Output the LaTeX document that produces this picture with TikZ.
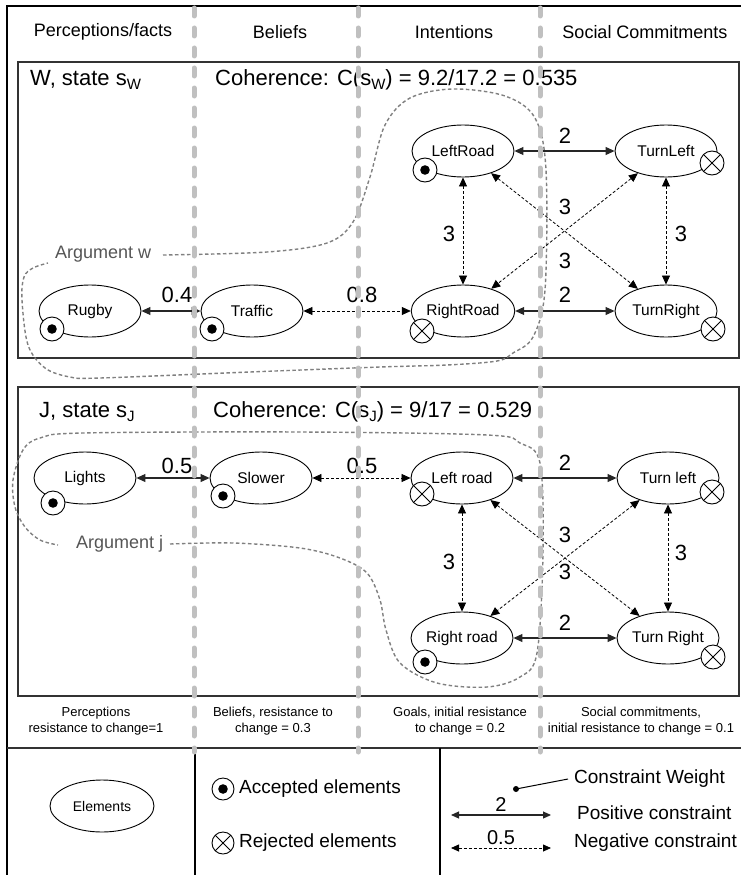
\documentclass[tikz,border=0pt]{standalone}
\usepackage{fontspec}
\setmainfont{Liberation Sans}
\usetikzlibrary{arrows.meta,shapes.geometric,calc}
\definecolor{sepgray}{RGB}{192,192,192}
\definecolor{arggray}{RGB}{128,128,128}
\definecolor{argtext}{RGB}{85,85,85}
\begin{document}
\begin{tikzpicture}[x=1pt,y=-1pt,
  elem/.style={ellipse,draw,line width=0.9pt,minimum width=102pt,minimum height=52pt,inner sep=0pt,font=\fontsize{15.5}{18}\selectfont},
  acc/.style={circle,draw,line width=0.9pt,fill=white,minimum size=24pt,inner sep=0pt,
    path picture={\fill[black] (path picture bounding box.center) circle (4.8pt);}},
  rej/.style={circle,draw,line width=0.9pt,fill=white,minimum size=24pt,inner sep=0pt,
    path picture={\draw[black,line width=0.9pt] (path picture bounding box.north west) -- (path picture bounding box.south east)
      (path picture bounding box.north east) -- (path picture bounding box.south west);}},
  posc/.style={{Triangle[length=9pt,width=8pt]}-{Triangle[length=9pt,width=8pt]},line width=1.1pt,draw=black!85},
  negc/.style={{Triangle[length=9pt,width=8pt]}-{Triangle[length=9pt,width=8pt]},line width=0.8pt,dash pattern=on 3pt off 2pt},
  wlab/.style={font=\fontsize{22}{24}\selectfont,inner sep=0pt},
  head/.style={font=\fontsize{18}{21}\selectfont,inner sep=0pt},
  title/.style={font=\fontsize{22}{25}\selectfont,inner sep=0pt,anchor=west},
  argtxt/.style={font=\fontsize{18}{21}\selectfont,text=argtext,inner sep=0pt,anchor=west},
  argline/.style={draw=arggray,line width=1.4pt,dash pattern=on 3.5pt off 2.5pt},
  desc/.style={font=\fontsize{13}{16}\selectfont,align=center,inner sep=0pt},
  legt/.style={font=\fontsize{19}{22}\selectfont,inner sep=0pt,anchor=west},
  boxline/.style={line width=1.5pt,draw=black!80},
  sepline/.style={draw=sepgray,line width=5pt,line cap=round,dash pattern=on 8pt off 12pt}
]
\useasboundingbox (0,0) rectangle (741,875);

% outer frame
\draw[line width=1.2pt] (7,880) -- (7,6) -- (745,6);

% headers
\node[head] (h1) at (103,32) {Perceptions/facts};
\node[head] (h2) at (280,32) {Beliefs};
\node[head] (h3) at (454,32) {Intentions};
\node[head] (h4) at (645,32) {Social Commitments};

% ===== W box =====
\draw[boxline] (18,62) rectangle (739,358);
\node[title] (wt) at (30,80) {W, state s\raisebox{-0.3ex}{\fontsize{15}{15}\selectfont W}};
\node[title] (wc) at (215,80) {Coherence: C(s\raisebox{-0.3ex}{\fontsize{15}{15}\selectfont W}) = 9.2/17.2 = 0.535};

\draw[argline] plot[smooth,tension=0.55] coordinates {(163,255) (267,252) (327,243) (353,222) (370,177) (385,125) (410,98) (453,89) (505,96) (535,118) (546,170) (545,290) (533,337) (513,353) (497,361) (447,365) (380,367) (250,372) (100,378) (70,377) (45,368) (28,345) (22,300) (24,277) (33,268) (48,263)};
\node[argtxt] (argw) at (55,254) {Argument w};

\node[elem] (rugby) at (90,311) {Rugby};
\node[elem] (traffic) at (252,311) {Traffic};
\node[elem] (leftroad) at (463,151) {LeftRoad};
\node[elem] (turnleft) at (666,151) {TurnLeft};
\node[elem] (rightroad) at (463,311) {RightRoad};
\node[elem] (turnright) at (666,311) {TurnRight};

\node[acc] (m1) at ($(rugby)+(-38,18)$) {};
\node[acc] (m2) at ($(traffic)+(-40,18)$) {};
\node[acc] (m3) at ($(leftroad)+(-38,19)$) {};
\node[rej] (m4) at ($(rightroad)+(-41,20)$) {};
\node[rej] (m5) at ($(turnleft)+(46,12)$) {};
\node[rej] (m6) at ($(turnright)+(47,18)$) {};

\draw[posc] (rugby) -- (traffic);
\draw[negc] (traffic) -- (rightroad);
\draw[posc] (leftroad) -- (turnleft);
\draw[posc] (rightroad) -- (turnright);
\draw[negc] (leftroad) -- (rightroad);
\draw[negc] (turnleft) -- (turnright);
\draw[negc] (leftroad) -- (turnright);
\draw[negc] (turnleft) -- (rightroad);

\node[wlab] (w1) at (177,295) {0.4};
\node[wlab] (w2) at (362,295) {0.8};
\node[wlab] (w3) at (565,136) {2};
\node[wlab] (w4) at (449,234) {3};
\node[wlab] (w5) at (681,234) {3};
\node[wlab] (w6) at (565,207) {3};
\node[wlab] (w7) at (565,261) {3};
\node[wlab] (w8) at (565,295) {2};

% ===== J box =====
\draw[boxline] (18,387) rectangle (739,696);
\node[title] (jt) at (39,412) {J, state s\raisebox{-0.3ex}{\fontsize{15}{15}\selectfont J}};
\node[title] (jc) at (213,412) {Coherence: C(s\raisebox{-0.3ex}{\fontsize{15}{15}\selectfont J}) = 9/17 = 0.529};

\draw[argline] plot[smooth,tension=0.55] coordinates {(170,544) (233,543) (300,548) (340,558) (367,573) (380,600) (386,630) (400,663) (437,683) (487,687) (520,677) (537,653) (543,553) (540,463) (520,443) (487,435) (300,432) (83,433) (40,438) (23,450) (13,480) (15,507) (25,527) (40,540) (58,545)};
\node[argtxt] (argj) at (76,544) {Argument j};

\node[elem] (lights) at (85,478) {Lights};
\node[elem] (slower) at (261,478) {Slower};
\node[elem] (jleft) at (462,478) {Left road};
\node[elem] (jtleft) at (668,478) {Turn left};
\node[elem] (jright) at (462,638) {Right road};
\node[elem] (jtright) at (668,638) {Turn Right};

\node[acc] (n1) at ($(lights)+(-32,25)$) {};
\node[acc] (n2) at ($(slower)+(-38,18)$) {};
\node[rej] (n3) at ($(jleft)+(-40,16)$) {};
\node[rej] (n4) at ($(jtleft)+(44,14)$) {};
\node[acc] (n5) at ($(jright)+(-37,24)$) {};
\node[rej] (n6) at ($(jtright)+(45,19)$) {};

\draw[posc] (lights) -- (slower);
\draw[negc] (slower) -- (jleft);
\draw[posc] (jleft) -- (jtleft);
\draw[posc] (jright) -- (jtright);
\draw[negc] (jleft) -- (jright);
\draw[negc] (jtleft) -- (jtright);
\draw[negc] (jleft) -- (jtright);
\draw[negc] (jtleft) -- (jright);

\node[wlab] (v1) at (177,466) {0.5};
\node[wlab] (v2) at (362,466) {0.5};
\node[wlab] (v3) at (565,463) {2};
\node[wlab] (v4) at (449,562) {3};
\node[wlab] (v5) at (681,553) {3};
\node[wlab] (v6) at (565,535) {3};
\node[wlab] (v7) at (565,572) {3};
\node[wlab] (v8) at (565,623) {2};

% descriptions
\node[desc] (d1) at (96,721) {Perceptions\\resistance to change=1};
\node[desc] (d2) at (273,721) {Beliefs, resistance to\\change = 0.3};
\node[desc] (d3) at (460,721) {Goals, initial resistance\\to change = 0.2};
\node[desc] (d4) at (641,721) {Social commitments,\\initial resistance to change = 0.1};

% ===== legend =====
\draw[boxline] (7,748) -- (745,748);
\draw[line width=1.2pt] (195,748) -- (195,880);
\draw[line width=1.2pt] (440,748) -- (440,880);

\node[ellipse,draw,line width=0.9pt,minimum width=104pt,minimum height=52pt,inner sep=0pt,font=\fontsize{14}{17}\selectfont] (lel) at (102,806) {Elements};

\node[acc,minimum size=22pt] (la) at (223,789) {};
\node[legt] (lat) at (239,789) {Accepted elements};
\node[rej,minimum size=22pt] (lr) at (223,843) {};
\node[legt] (lrt) at (239,843) {Rejected elements};

\node[circle,fill,inner sep=0pt,minimum size=6pt] (wdot) at (516,789) {};
\coordinate (cwend) at (568,779);
\draw[line width=1pt] (wdot.center) -- (cwend);
\node[legt] (cwt) at (574,779) {Constraint Weight};
\coordinate (pa) at (451,815);
\coordinate (pb) at (551,815);
\draw[{Triangle[length=8pt,width=7pt]}-{Triangle[length=8pt,width=7pt]},line width=1.1pt,draw=black!85] (pa) -- (pb);
\node[wlab,font=\fontsize{20}{22}\selectfont] (l2) at (501,805) {2};
\node[legt] (pct) at (577,813) {Positive constraint};
\coordinate (na) at (451,848);
\coordinate (nb) at (551,848);
\draw[{Triangle[length=8pt,width=7pt]}-{Triangle[length=8pt,width=7pt]},line width=0.8pt,dash pattern=on 3pt off 2pt] (na) -- (nb);
\node[wlab,font=\fontsize{20}{22}\selectfont] (l05) at (501,838) {0.5};
\node[legt] (nct) at (574,843) {Negative constraint};

% column separators (on top)
\draw[sepline] (194,8) -- (194,752);
\draw[sepline] (358,8) -- (358,752);
\draw[sepline] (540,8) -- (540,752);
\end{tikzpicture}
\end{document}
